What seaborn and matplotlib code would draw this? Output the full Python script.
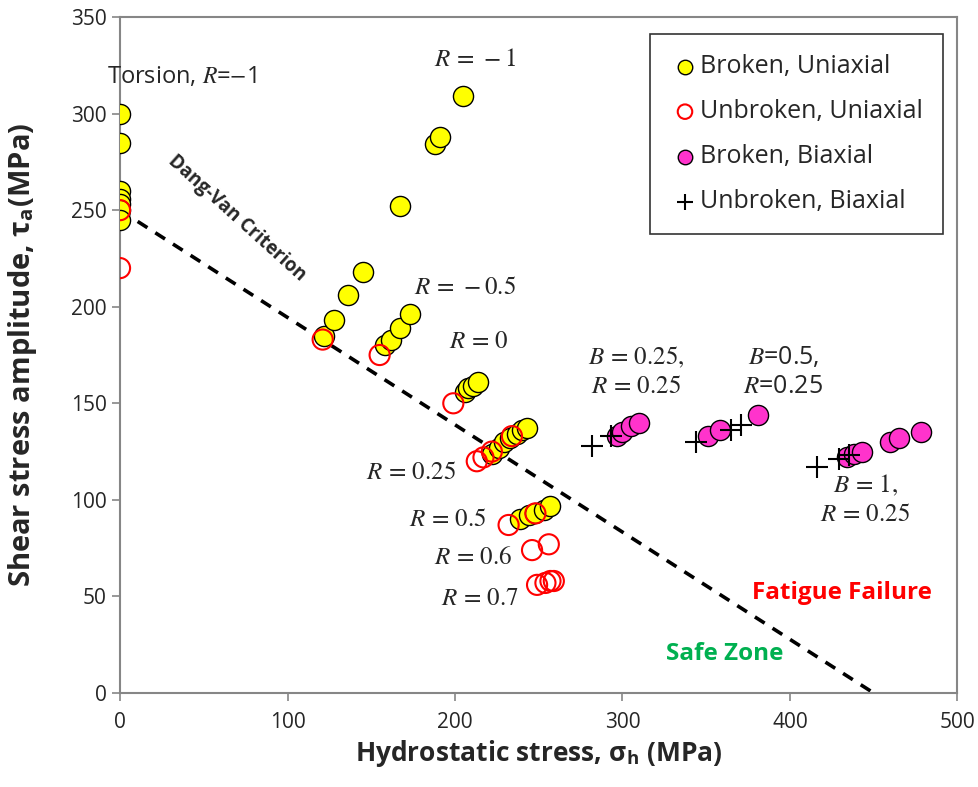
import numpy as np
import pandas as pd
import matplotlib
matplotlib.use("Agg")
import matplotlib.pyplot as plt
import seaborn as sns

# Data (MPa)
broken_uni_x = [0, 0, 0, 0, 0, 0, 0,
                122, 128, 136, 145, 167, 188, 191, 205,
                158, 162, 167, 173,
                206, 208, 211, 214,
                222, 226, 229, 233, 237, 240, 243,
                239, 244, 248, 253, 257]
broken_uni_y = [300, 285, 260, 256, 253, 250, 245,
                185, 193, 206, 218, 252, 284, 288, 309,
                180, 183, 189, 196,
                156, 158, 159, 161,
                124, 127, 130, 132, 134, 136, 137,
                90, 92, 93, 95, 97]

unbroken_uni_x = [0, 0, 121, 155, 199, 213, 217, 222, 234, 232, 248, 246, 256, 249, 254, 257, 259]
unbroken_uni_y = [250, 220, 183, 175, 150, 120, 122, 125, 133, 87, 93, 74, 77, 56, 57, 58, 58]

broken_bi_x = [297, 300, 305, 310, 351, 358, 381, 434, 438, 443, 460, 465, 478]
broken_bi_y = [133, 135, 138, 140, 133, 136, 144, 122, 124, 125, 130, 132, 135]

unbroken_bi_x = [282, 293, 344, 365, 371, 416, 429, 435]
unbroken_bi_y = [128, 133, 130, 136, 139, 117, 121, 123]

criterion_x = [0, 450]
criterion_y = [250, 0]

sns.set_theme(style="white")
plt.rcParams['font.family'] = ['Open Sans', 'DejaVu Sans']
plt.rcParams['mathtext.fontset'] = 'stix'

fig = plt.figure(figsize=(9.79, 7.87), dpi=100)
ax = fig.add_axes([0.1226, 0.1194, 0.8554, 0.859])

sns.lineplot(x=criterion_x, y=criterion_y, ax=ax, color="black",
             linestyle=(0, (3.2, 2.6)), linewidth=2.6, zorder=2)

sns.scatterplot(x=broken_uni_x, y=broken_uni_y, ax=ax, color="#FFFF00",
                edgecolor="black", linewidth=1, s=210, zorder=3,
                label="Broken, Uniaxial")
sns.scatterplot(x=unbroken_uni_x, y=unbroken_uni_y, ax=ax, facecolor="none",
                edgecolor="#FF0000", linewidth=1.5, s=210, zorder=4,
                label="Unbroken, Uniaxial")
sns.scatterplot(x=broken_bi_x, y=broken_bi_y, ax=ax, color="#FF33CC",
                edgecolor="black", linewidth=1, s=210, zorder=5,
                label="Broken, Biaxial")
sns.scatterplot(x=unbroken_bi_x, y=unbroken_bi_y, ax=ax, color="black",
                marker="+", linewidth=1.5, s=260, zorder=6,
                label="Unbroken, Biaxial")

ax.set_xlim(0, 500)
ax.set_ylim(0, 350)
ax.set_xticks(np.arange(0, 501, 100))
ax.set_yticks(np.arange(0, 351, 50))
ax.tick_params(axis="both", labelsize=15, direction="out", length=6,
               color="#868686", width=1.2, bottom=True, left=True)
ax.tick_params(axis="x", pad=8)
for sp in ax.spines.values():
    sp.set_color("#868686")
    sp.set_linewidth(1.5)

ax.set_xlabel(r"Hydrostatic stress, σ$_\mathregular{h}$ (MPa)", fontsize=19,
              fontweight="bold")
ax.set_ylabel(r"Shear stress amplitude, τ$_\mathregular{a}$(MPa)", fontsize=21,
              fontweight="bold")
ax.xaxis.set_label_coords(0.5, -0.066)
ax.yaxis.set_label_coords(-0.097, 0.5)

leg = ax.legend(loc="upper right", bbox_to_anchor=(0.9975, 0.993), fontsize=18,
                frameon=True, fancybox=False, edgecolor="black",
                handletextpad=0.0, handlelength=1.2, labelspacing=0.8,
                borderpad=0.8, markerscale=0.72)
leg.get_frame().set_linewidth(1.2)

ann = dict(fontsize=18, ha="center", va="center")
ax.text(37, 319, "Torsion, $R$=$-$1", fontsize=17, ha="center", va="center")
ax.text(212, 328, "$R\\,=\\,-1$", **ann)
ax.text(206, 210, "$R\\,=\\,-0.5$", **ann)
ax.text(214, 182, "$R\\,=\\,0$", **ann)
ax.text(308, 166, "$B\\,=\\,0.25,$\n$R\\,=\\,0.25$", linespacing=1.2, **ann)
ax.text(396, 166, "$B$=0.5,\n$R$=0.25", linespacing=1.2, **ann)
ax.text(445, 100, "$B\\,=\\,1,$\n$R\\,=\\,0.25$", linespacing=1.2, **ann)
ax.text(174, 114, "$R\\,=\\,0.25$", **ann)
ax.text(196, 90, "$R\\,=\\,0.5$", **ann)
ax.text(211, 70, "$R\\,=\\,0.6$", **ann)
ax.text(215, 49, "$R\\,=\\,0.7$", **ann)
ax.text(70, 246, "Dang-Van Criterion", fontsize=13.5, fontweight="bold",
        rotation=-42, ha="center", va="center", rotation_mode="anchor")
ax.text(431, 52, "Fatigue Failure", fontsize=17.5, fontweight="bold",
        color="#FF0000", ha="center", va="center")
ax.text(361, 20, "Safe Zone", fontsize=17.5, fontweight="bold",
        color="#00B050", ha="center", va="center")

fig.savefig("out.png", dpi=100)
